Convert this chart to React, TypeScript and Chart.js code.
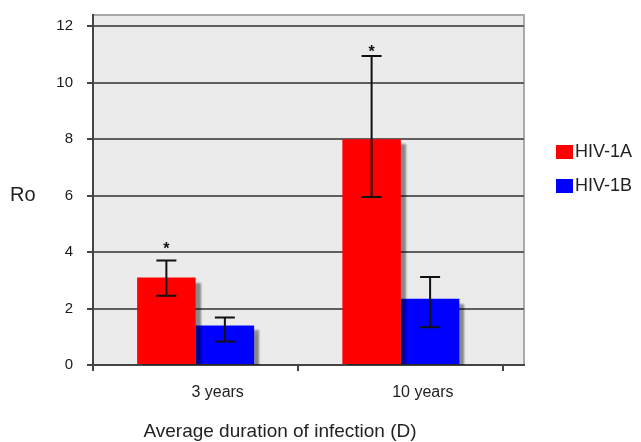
import React, { useEffect, useRef } from 'react';
import { Chart, registerables } from 'chart.js';

Chart.register(...registerables);

const FONT = '"Liberation Sans", Arial, Helvetica, sans-serif';

// ---- data ----
const categories = ['3 years', '10 years'];
const seriesNames = ['HIV-1A', 'HIV-1B'];
const hiv1a = [3.1, 8.0];
const hiv1b = [1.4, 2.35];
const hiv1aLow = [2.45, 5.95];
const hiv1aHigh = [3.7, 10.95];
const hiv1bLow = [0.83, 1.34];
const hiv1bHigh = [1.68, 3.12];
const hiv1aStar = [4.2, 11.2];
const yTickValues = [0, 2, 4, 6, 8, 10, 12];
const yMax = 12.4;
const xMax = 2.1;
const xTitle = 'Average duration of infection (D)';
const yTitle = 'Ro';

const W = 641;
const H = 442;

const decor = {
  id: 'decor',
  afterLayout(chart: any) {
    const lg = chart.legend;
    const a = chart.chartArea;
    if (!lg || !a) return;
    lg.left = a.right + 16;
    lg.right = 632;
    lg.top = a.top + 112;
    lg.bottom = lg.top + a.height;
    lg.width = lg.right - lg.left;
  },
  beforeDraw(chart: any) {
    const { ctx, chartArea: a } = chart;
    ctx.save();
    ctx.fillStyle = '#ebebeb';
    ctx.fillRect(a.left, a.top, a.width, a.height);
    ctx.strokeStyle = '#a9a9a9';
    ctx.lineWidth = 2;
    ctx.beginPath();
    ctx.moveTo(a.left, a.top);
    ctx.lineTo(a.right, a.top);
    ctx.lineTo(a.right, a.bottom);
    ctx.stroke();
    ctx.restore();
  },
  beforeDatasetsDraw(chart: any) {
    const ctx = chart.ctx;
    ctx.save();
    ctx.shadowColor = 'rgba(0,0,0,0.42)';
    ctx.shadowOffsetX = 5;
    ctx.shadowOffsetY = 5;
    ctx.shadowBlur = 2;
  },
  afterDatasetsDraw(chart: any) {
    const ctx = chart.ctx;
    ctx.restore();
    const ys = chart.scales.y;
    const errs = [
      [hiv1aLow, hiv1aHigh],
      [hiv1bLow, hiv1bHigh],
    ];
    ctx.save();
    ctx.strokeStyle = '#111';
    ctx.lineWidth = 2;
    errs.forEach(([lo, hi], di) => {
      const meta = chart.getDatasetMeta(di);
      meta.data.forEach((bar: any, i: number) => {
        const x = bar.x;
        const y1 = ys.getPixelForValue(lo[i]);
        const y2 = ys.getPixelForValue(hi[i]);
        ctx.beginPath();
        ctx.moveTo(x, y1);
        ctx.lineTo(x, y2);
        ctx.moveTo(x - 10, y1);
        ctx.lineTo(x + 10, y1);
        ctx.moveTo(x - 10, y2);
        ctx.lineTo(x + 10, y2);
        ctx.stroke();
      });
    });
    ctx.fillStyle = '#111';
    const fs = 16;
    ctx.font = `bold ${fs}px ${FONT}`;
    ctx.textAlign = 'center';
    ctx.textBaseline = 'alphabetic';
    chart.getDatasetMeta(0).data.forEach((bar: any, i: number) => {
      const y = ys.getPixelForValue(hiv1aStar[i]);
      ctx.fillText('*', bar.x, y + 0.5 * fs);
    });
    ctx.restore();
  },
  afterDraw(chart: any) {
    const { ctx } = chart;
    ctx.save();
    ctx.fillStyle = '#222';
    ctx.textAlign = 'center';
    ctx.textBaseline = 'alphabetic';
    ctx.font = `19px ${FONT}`;
    ctx.fillText(xTitle, 280, 437);
    ctx.textAlign = 'left';
    ctx.font = `20px ${FONT}`;
    ctx.fillText(yTitle, 10, 201);
    ctx.restore();
  },
};

export default function App() {
  const ref = useRef<HTMLCanvasElement | null>(null);

  useEffect(() => {
    if (!ref.current) return;
    const chart = new Chart(ref.current, {
      type: 'bar',
      data: {
        datasets: [
          {
            label: seriesNames[0],
            data: categories.map((_, i) => ({ x: i + 0.5, y: hiv1a[i] })),
            backgroundColor: '#ff0000',
            borderWidth: 0,
          },
          {
            label: seriesNames[1],
            data: categories.map((_, i) => ({ x: i + 0.5, y: hiv1b[i] })),
            backgroundColor: '#0000ff',
            borderWidth: 0,
          },
        ],
      },
      options: {
        responsive: false,
        animation: false,
        devicePixelRatio: 1,
        categoryPercentage: 1.14,
        barPercentage: 1,
        layout: { padding: { top: 15, right: W - 524, bottom: 0, left: 0 } },
        font: { family: FONT },
        plugins: {
          tooltip: { enabled: false },
          legend: {
            display: true,
            position: 'chartArea',
            align: 'start',
            labels: {
              boxWidth: 17,
              boxHeight: 14,
              padding: 16,
              textAlign: 'right',
              color: '#222',
              font: { size: 18, family: FONT },
            },
          },
        },
        scales: {
          x: {
            type: 'linear',
            offset: false,
            min: 0,
            max: xMax,
            afterFit: (s: any) => {
              s.height = 77;
              s.paddingLeft = 0;
              s.paddingRight = 0;
            },
            afterBuildTicks: (s: any) => {
              s.ticks = [0, 0.5, 1, 1.5, 2].map((v) => ({ value: v }));
            },
            grid: {
              offset: false,
              drawOnChartArea: false,
              drawTicks: true,
              tickLength: 6,
              lineWidth: 2,
              tickColor: (c: any) =>
                c.tick && Math.abs(c.tick.value % 1) < 1e-6 ? '#444' : 'rgba(0,0,0,0)',
              color: 'rgba(0,0,0,0)',
            },
            border: { display: true, color: '#444', width: 2 },
            ticks: {
              autoSkip: false,
              maxRotation: 0,
              minRotation: 0,
              labelOffset: 22,
              padding: 12,
              color: '#222',
              font: { size: 16, family: FONT },
              callback: (v: any) => {
                const val = Number(v);
                const i = Math.floor(val);
                return Math.abs(val - i - 0.5) < 1e-6 ? categories[i] : '';
              },
            },
          },
          y: {
            type: 'linear',
            min: 0,
            max: yMax,
            afterFit: (s: any) => {
              s.width = 93;
              s.paddingTop = 0;
              s.paddingBottom = 0;
            },
            afterBuildTicks: (s: any) => {
              s.ticks = yTickValues.map((v) => ({ value: v }));
            },
            grid: {
              color: '#5f5f5f',
              lineWidth: 2,
              tickLength: 6,
              tickColor: '#444',
            },
            border: { display: true, color: '#444', width: 2 },
            ticks: {
              padding: 14,
              color: '#1a1a1a',
              font: { size: 15, family: FONT },
            },
          },
        },
      },
      plugins: [decor],
    } as any);
    return () => chart.destroy();
  }, []);

  return (
    <div style={{ margin: '-8px 0 0 -8px', width: W, height: H }}>
      <style>{'html,body{overflow:hidden}'}</style>
      <canvas ref={ref} width={W} height={H} style={{ display: 'block', width: W, height: H }} />
    </div>
  );
}
